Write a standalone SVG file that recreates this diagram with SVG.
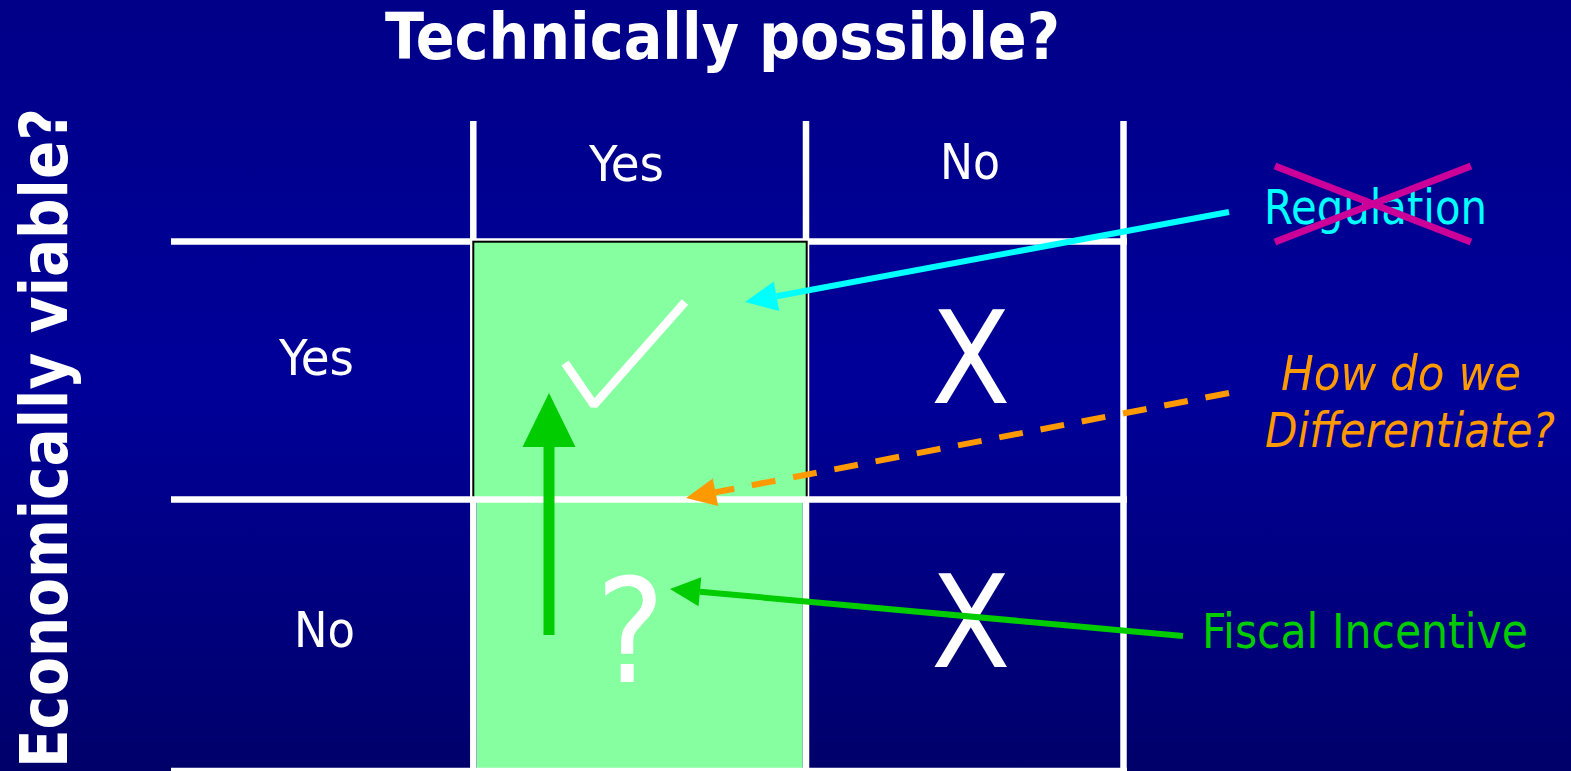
<svg xmlns="http://www.w3.org/2000/svg" width="1571" height="771" viewBox="0 0 1571 771">
<defs>
<linearGradient id="bg" x1="0" y1="0" x2="0" y2="1">
<stop offset="0" stop-color="#000088"/>
<stop offset="0.5" stop-color="#000099"/>
<stop offset="1" stop-color="#00006A"/>
</linearGradient>
<marker id="mCyan" markerUnits="userSpaceOnUse" orient="auto" markerWidth="32" markerHeight="30" refX="0" refY="15" overflow="visible"><path d="M0,0 L32,15 L0,30 Z" fill="#00FFFF"/></marker>
<marker id="mOrange" markerUnits="userSpaceOnUse" orient="auto" markerWidth="30" markerHeight="28" refX="0" refY="14" overflow="visible"><path d="M0,0 L30,14 L0,28 Z" fill="#FF9900"/></marker>
<marker id="mGreen" markerUnits="userSpaceOnUse" orient="auto" markerWidth="30" markerHeight="29" refX="0" refY="14.5" overflow="visible"><path d="M0,0 L30,14.5 L0,29 Z" fill="#00CC00"/></marker>
<marker id="mGreenBig" markerUnits="userSpaceOnUse" orient="auto" markerWidth="54" markerHeight="53" refX="0" refY="26.5" overflow="visible"><path d="M0,0 L54,26.5 L0,53 Z" fill="#00CC00"/></marker>
</defs>
<style>
.grid{stroke:#FFFFFF;stroke-width:6.5;fill:none}
.lbl{font-family:"DejaVu Sans Condensed","DejaVu Sans","Liberation Sans",sans-serif;font-stretch:condensed;fill:#FFFFFF;font-size:49px}
.big{font-family:"DejaVu Sans Condensed","DejaVu Sans","Liberation Sans",sans-serif;font-stretch:condensed;fill:#FFFFFF}
.head{font-family:"DejaVu Sans Condensed","DejaVu Sans","Liberation Sans",sans-serif;font-stretch:condensed;font-weight:bold;fill:#FFFFFF}
.note{font-family:"DejaVu Sans Condensed","DejaVu Sans","Liberation Sans",sans-serif;font-stretch:condensed;font-size:48px}
</style>
<rect x="0" y="0" width="1571" height="771" fill="url(#bg)"/>

<g id="title">
<text class="head" x="385" y="59" font-size="64" textLength="675" lengthAdjust="spacingAndGlyphs">Technically possible?</text>
</g>
<g id="axis-y">
<text class="head" transform="translate(67,108) rotate(-90)" x="-660" y="0" font-size="66" textLength="660" lengthAdjust="spacingAndGlyphs">Economically viable?</text>
</g>

<g id="matrix">
<rect x="476.7" y="502" width="326" height="266" fill="#86FFA0"/>
<line class="grid" x1="171" y1="241.5" x2="1127" y2="241.5"/>
<line class="grid" x1="473.3" y1="121" x2="473.3" y2="771"/>
<line class="grid" x1="806" y1="121" x2="806" y2="771"/>
<line class="grid" x1="1123.5" y1="121" x2="1123.5" y2="771"/>
<line class="grid" x1="171" y1="771" x2="1127" y2="771"/>
<rect x="473.3" y="241.7" width="333.4" height="258" fill="#86FFA0" stroke="#000000" stroke-width="2"/>
<line class="grid" x1="171" y1="499.5" x2="1127" y2="499.5"/>
</g>

<g id="headers">
<text class="lbl" x="589" y="181" textLength="75" lengthAdjust="spacingAndGlyphs">Yes</text>
<text class="lbl" x="940" y="179" textLength="60" lengthAdjust="spacingAndGlyphs">No</text>
<text class="lbl" x="279" y="375" textLength="75" lengthAdjust="spacingAndGlyphs">Yes</text>
<text class="lbl" x="294" y="647" textLength="61" lengthAdjust="spacingAndGlyphs">No</text>
</g>

<g id="cell-yes-yes">
<polyline points="565,363 594,405 685,302" fill="none" stroke="#FFFFFF" stroke-width="8.5" stroke-linejoin="bevel"/>
</g>
<g id="cell-yes-no">
<text class="big" x="931" y="403" font-size="129">X</text>
</g>
<g id="cell-no-yes">
<text class="big" x="596" y="682" font-size="144">?</text>
</g>
<g id="cell-no-no">
<text class="big" x="931" y="667" font-size="129">X</text>
</g>

<g id="regulation">
<text class="note" x="1264" y="224" fill="#00FFFF" textLength="223" lengthAdjust="spacingAndGlyphs">Regulation</text>
<line x1="1275" y1="166" x2="1471" y2="242" stroke="#CC0099" stroke-width="7"/>
<line x1="1275" y1="242" x2="1471" y2="166" stroke="#CC0099" stroke-width="7"/>
</g>
<g id="differentiate">
<text class="note" x="1281" y="390" fill="#FF9900" font-style="italic" textLength="240" lengthAdjust="spacingAndGlyphs">How do we</text>
<text class="note" x="1265" y="447" fill="#FF9900" font-style="italic" textLength="290" lengthAdjust="spacingAndGlyphs">Differentiate?</text>
</g>
<g id="fiscal">
<text class="note" x="1202" y="648" fill="#00CC00" textLength="326" lengthAdjust="spacingAndGlyphs">Fiscal Incentive</text>
</g>

<g id="connectors">
<line x1="1229" y1="212" x2="776.5" y2="296.2" stroke="#00FFFF" stroke-width="6" marker-end="url(#mCyan)"/>
<line x1="1229" y1="393" x2="715.5" y2="492.3" stroke="#FF9900" stroke-width="6" stroke-dasharray="24 18" marker-end="url(#mOrange)"/>
<line x1="1183" y1="636" x2="699.9" y2="591.7" stroke="#00CC00" stroke-width="6" marker-end="url(#mGreen)"/>
<line x1="549" y1="635" x2="549" y2="447" stroke="#00CC00" stroke-width="11" marker-end="url(#mGreenBig)"/>
</g>
</svg>
